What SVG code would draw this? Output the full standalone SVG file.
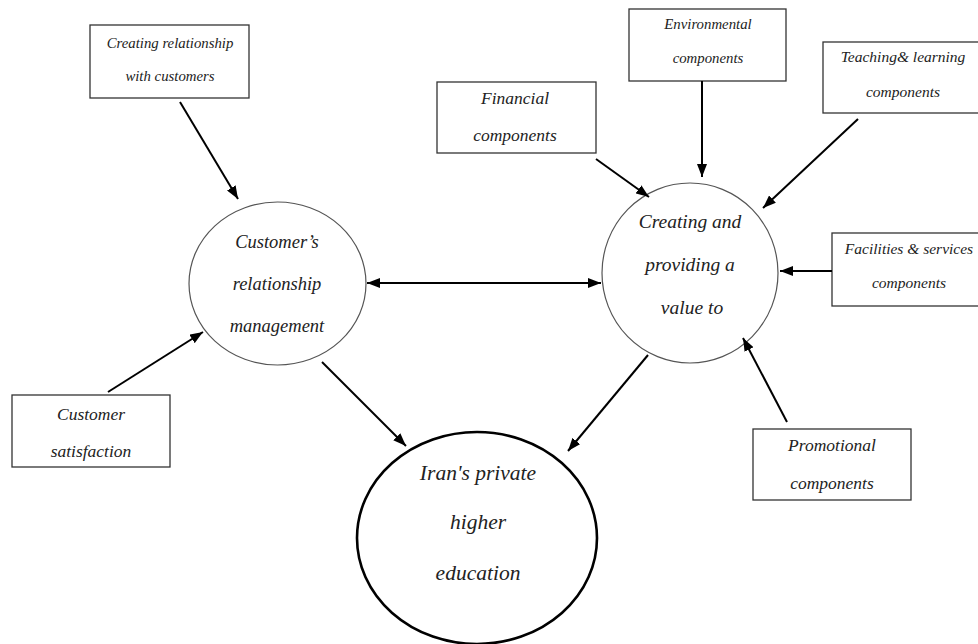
<svg xmlns="http://www.w3.org/2000/svg" width="978" height="644" viewBox="0 0 978 644">
<style>
.box{fill:#fff;stroke:#333;stroke-width:1.3}
.circ{fill:#fff;stroke:#555;stroke-width:1.2}
.big{fill:#fff;stroke:#000;stroke-width:2.6}
text{font-family:"Liberation Serif","Times New Roman",serif;font-style:italic;fill:#222;text-anchor:middle}
.s14{font-size:14.8px}
.s15{font-size:15.5px}
.s17{font-size:17.5px}
.s18{font-size:18.5px}
.s19{font-size:19.5px}
.s21{font-size:21.5px}
.conn line{stroke:#000;stroke-width:2}
</style>
<defs>
<marker id="ah" viewBox="0 0 13 10" refX="13" refY="5" markerWidth="13" markerHeight="10" markerUnits="userSpaceOnUse" orient="auto-start-reverse">
<path d="M0,0 L13,5 L0,10 Z" fill="#000"/>
</marker>
</defs>
<rect width="978" height="644" fill="#fff"/>

<g id="creating-relationship">
<rect class="box" x="90" y="25" width="159" height="73"/>
<text class="s14" x="170" y="48">Creating relationship</text>
<text class="s14" x="170" y="81">with customers</text>
</g>

<g id="customer-satisfaction">
<rect class="box" x="12" y="395" width="158" height="72"/>
<text class="s17" x="91" y="420">Customer</text>
<text class="s17" x="91" y="457">satisfaction</text>
</g>

<g id="crm">
<ellipse class="circ" cx="277.5" cy="283.5" rx="88.5" ry="81.5"/>
<text class="s18" x="277" y="248">Customer’s</text>
<text class="s18" x="277" y="290">relationship</text>
<text class="s18" x="277" y="332">management</text>
</g>

<g id="financial">
<rect class="box" x="437" y="82" width="159" height="71"/>
<text class="s17" x="515" y="104">Financial</text>
<text class="s17" x="515" y="141">components</text>
</g>

<g id="environmental">
<rect class="box" x="629" y="9" width="157" height="72"/>
<text class="s14" x="708" y="29">Environmental</text>
<text class="s14" x="708" y="63">components</text>
</g>

<g id="teaching">
<rect class="box" x="823" y="42" width="162" height="71"/>
<text class="s15" x="903" y="62">Teaching&amp; learning</text>
<text class="s15" x="903" y="97">components</text>
</g>

<g id="facilities">
<rect class="box" x="832" y="233" width="155" height="73"/>
<text class="s15" x="909" y="254">Facilities &amp; services</text>
<text class="s15" x="909" y="288">components</text>
</g>

<g id="value">
<ellipse class="circ" cx="690" cy="273" rx="88" ry="90"/>
<text class="s19" x="690" y="228">Creating and</text>
<text class="s19" x="690" y="271">providing a</text>
<text class="s19" x="692" y="314">value to</text>
</g>

<g id="promotional">
<rect class="box" x="753" y="429" width="158" height="71"/>
<text class="s17" x="832" y="451">Promotional</text>
<text class="s17" x="832" y="489">components</text>
</g>

<g id="iran">
<ellipse class="big" cx="477" cy="538" rx="120" ry="106"/>
<text class="s21" x="478" y="480">Iran's private</text>
<text class="s21" x="478" y="529">higher</text>
<text class="s21" x="478" y="580">education</text>
</g>

<g id="connectors" class="conn">
<line x1="180" y1="102" x2="238" y2="199" marker-end="url(#ah)"/>
<line x1="108" y1="392" x2="203" y2="332" marker-end="url(#ah)"/>
<line x1="367" y1="283" x2="601" y2="283" marker-start="url(#ah)" marker-end="url(#ah)"/>
<line x1="322" y1="362" x2="406" y2="446" marker-end="url(#ah)"/>
<line x1="596" y1="159" x2="649" y2="197" marker-end="url(#ah)"/>
<line x1="702" y1="81" x2="702" y2="177" marker-end="url(#ah)"/>
<line x1="858" y1="119" x2="763" y2="208" marker-end="url(#ah)"/>
<line x1="832" y1="271" x2="780" y2="271" marker-end="url(#ah)"/>
<line x1="787" y1="422" x2="743" y2="338" marker-end="url(#ah)"/>
<line x1="648" y1="355" x2="568" y2="451" marker-end="url(#ah)"/>
</g>
</svg>
